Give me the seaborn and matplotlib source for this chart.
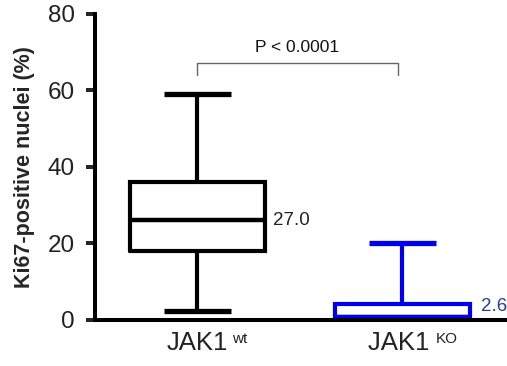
import matplotlib
matplotlib.use('Agg')
import matplotlib.pyplot as plt
import seaborn as sns
import pandas as pd

# five-number summaries (min, Q1, median, Q3, max)
wt_vals = [2.3, 18.0, 26.0, 36.0, 59.0]
ko_vals = [0.0, 0.7, 0.7, 4.2, 20.0]
groups = ['JAK1', 'JAK1 ']
sups = ['wt', 'KO']
mean_labels = ['27.0', '2.6']
mean_y = [26.0, 3.4]
colors = ['black', '#0000ee']
label_colors = ['#222222', '#24409a']
p_text = 'P < 0.0001'

df = pd.DataFrame({'group': [groups[0]] * len(wt_vals) + [groups[1]] * len(ko_vals),
                   'value': wt_vals + ko_vals})

sns.set_style('ticks')
plt.rcParams['font.family'] = ['Liberation Sans', 'DejaVu Sans']

fig = plt.figure(figsize=(5.07, 3.66), dpi=100)
ax = fig.add_axes([0.187, 0.126, 0.809, 0.836])

sns.boxplot(data=df, x='group', y='value', hue='group', palette=colors, fill=False,
            whis=(0, 100), width=0.66, linewidth=3, legend=False, ax=ax,
            boxprops=dict(solid_joinstyle='miter'),
            capprops=dict(linewidth=3.8, solid_capstyle='butt'),
            whiskerprops=dict(linewidth=3, solid_capstyle='butt'),
            medianprops=dict(linewidth=3.2, solid_capstyle='butt'))

ax.set_xlim(-0.5, 1.5)
ax.set_ylim(0, 80)
ax.set_yticks([0, 20, 40, 60, 80])
ax.set_xlabel('')
ax.set_ylabel('Ki67-positive nuclei (%)', fontsize=15.5, fontweight='bold', labelpad=9)
sns.despine(ax=ax)
for s in ['left', 'bottom']:
    ax.spines[s].set_linewidth(2.9)
    ax.spines[s].set_color('black')
ax.tick_params(axis='y', length=6.5, width=2.9, pad=8, labelsize=17.5, labelcolor='#222222')
ax.tick_params(axis='x', length=0, pad=8, labelsize=18.5, labelcolor='#222222')

sup_dx = [25, 24]
text_dx = [0.37, 0.385]
for i, s in enumerate(sups):
    ax.annotate(s, xy=(i, 0), xycoords=('data', 'axes fraction'), xytext=(sup_dx[i], -9),
                textcoords='offset points', fontsize=11, color='#222222', va='top', ha='left')
    ax.text(i + text_dx[i], mean_y[i], mean_labels[i], fontsize=13.5, color=label_colors[i],
            va='center', ha='left')

# significance bracket
ax.plot([0, 0, 0.98, 0.98], [64, 67.2, 67.2, 64], color='#666666', lw=1, clip_on=False)
ax.text(0.488, 71.3, p_text, fontsize=12.5, ha='center', va='center', color='#111111')

fig.savefig('out.png', dpi=100)
